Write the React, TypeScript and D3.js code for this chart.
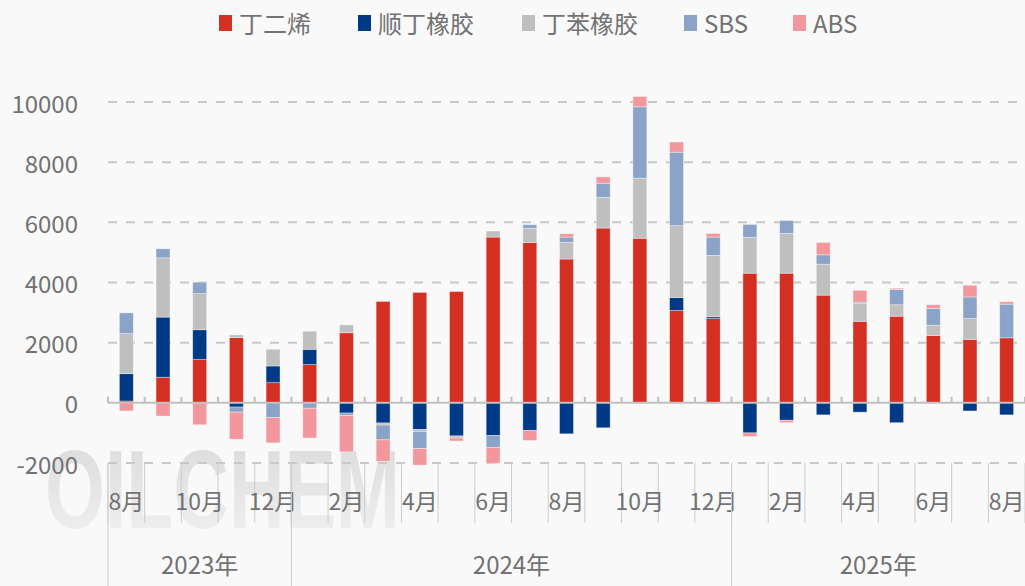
import * as d3 from 'd3'

// months 2023-08 .. 2025-08
const months = [
  '2023-08', '2023-09', '2023-10', '2023-11', '2023-12',
  '2024-01', '2024-02', '2024-03', '2024-04', '2024-05', '2024-06',
  '2024-07', '2024-08', '2024-09', '2024-10', '2024-11', '2024-12',
  '2025-01', '2025-02', '2025-03', '2025-04', '2025-05', '2025-06',
  '2025-07', '2025-08',
]

const butadiene = [60, 850, 1440, 2170, 670, 1270, 2330, 3370, 3670, 3700, 5510, 5330, 4780, 5810, 5470, 3070, 2800, 4310, 4310, 3580, 2710, 2880, 2240, 2110, 2160]
const brRubber = [910, 2000, 990, -140, 555, 510, -340, -670, -890, -1100, -1090, -920, -1030, -830, 0, 430, 60, -1000, -580, -400, -310, -660, 0, -270, -400]
const sbrRubber = [1330, 1970, 1200, 90, 556, 600, 260, -70, -60, -70, 200, 470, 550, 1020, 2000, 2390, 2040, 1190, 1320, 1030, 600, 380, 340, 690, 0]
const sbs = [690, 300, 380, -170, -490, -180, -80, -490, -570, 0, -390, 120, 180, 470, 2370, 2440, 610, 430, 430, 310, 40, 510, 560, 720, 1120]
const abs = [-270, -440, -730, -900, -840, -990, -1210, -710, -550, -100, -530, -330, 110, 210, 340, 340, 120, -120, -80, 410, 390, 40, 120, 390, 80]

const seriesNames = ['丁二烯', '顺丁橡胶', '丁苯橡胶', 'SBS', 'ABS']
const seriesColors = ['#d42f23', '#003a86', '#bfbfbf', '#8aa3c7', '#f3979f']
const yTicks = [-2000, 0, 2000, 4000, 6000, 8000, 10000]
const years = ['2023', '2024', '2025']

const W = 1025
const H = 586
const FONT = '"Noto Sans CJK SC", "Noto Sans", sans-serif'
const TEXT = '#727272'

export default function App() {
  const rows = months.map((m, i) => ({
    month: m,
    丁二烯: butadiene[i],
    顺丁橡胶: brRubber[i],
    丁苯橡胶: sbrRubber[i],
    SBS: sbs[i],
    ABS: abs[i],
  }))
  const stacked = d3.stack<any>().keys(seriesNames).offset(d3.stackOffsetDiverging)(rows)

  const x = d3.scaleBand().domain(months).range([108, W]).paddingInner(0.62).paddingOuter(0.31)
  const y = d3.scaleLinear().domain([-2000, 10000]).range([463, 102])
  const step = x.step()
  const boundaries = d3.range(months.length + 1).map(i => 108 + i * step)

  const yearGroups = years.map(yr => {
    const idx = months.map((m, i) => (m.startsWith(yr) ? i : -1)).filter(i => i >= 0)
    const x0 = 108 + idx[0] * step
    const x1 = 108 + (idx[idx.length - 1] + 1) * step
    return { yr, x0, x1 }
  })

  const legendX = [219, 358, 522, 684, 793]

  return (
    <svg width={W} height={H} style={{ position: 'fixed', left: 0, top: 0, fontFamily: FONT }}>
      <defs>
        <linearGradient id="wm" x1="0" y1="0" x2="0" y2="1">
          <stop offset="0" stopColor="#d9d9d9" />
          <stop offset="1" stopColor="#f2f2f2" />
        </linearGradient>
      </defs>
      <rect width={W} height={H} fill="#f9f9f9" />

      {/* watermark */}
      <text x={45} y={528} fontSize={112} fontWeight="bold" fill="url(#wm)" textLength={355}
        lengthAdjust="spacingAndGlyphs" fontFamily='"Liberation Sans", sans-serif'>OILCHEM</text>

      {/* grid */}
      {yTicks.filter(t => t !== 0).map(t => (
        <line key={t} x1={108} x2={W} y1={y(t)} y2={y(t)} stroke="#c8c8c8" strokeWidth={2} strokeDasharray="9 9" />
      ))}
      {yTicks.map(t => (
        <text key={t} x={78} y={y(t)} textAnchor="end" dominantBaseline="central" fontSize={24} fill={TEXT}>{t}</text>
      ))}

      {/* bars */}
      {stacked.map((s, si) => (
        <g key={s.key} fill={seriesColors[si]}>
          {s.map((d, i) => {
            const v = d[1] - d[0]
            if (v === 0) return null
            const top = y(Math.max(d[0], d[1]))
            const bot = y(Math.min(d[0], d[1]))
            return (
              <rect key={i} x={x(months[i])} y={top} width={x.bandwidth()} height={bot - top}
                stroke="#ffffff" strokeOpacity={0.45} strokeWidth={0.8} />
            )
          })}
        </g>
      ))}

      {/* zero baseline */}
      <line x1={108} x2={W} y1={y(0)} y2={y(0)} stroke="#c0c0c0" strokeWidth={2} />
      {boundaries.map((bx, i) => (
        <line key={i} x1={bx} x2={bx} y1={y(0)} y2={y(0) - 6} stroke="#c0c0c0" strokeWidth={2} />
      ))}

      {/* category axis */}
      {boundaries.map((bx, i) => (
        <line key={i} x1={bx} x2={bx} y1={463} y2={523} stroke="#cccccc" strokeWidth={1} />
      ))}
      {months.map((m, i) => i % 2 === 0 ? (
        <text key={m} x={x(m)! + x.bandwidth() / 2} y={500} textAnchor="middle" dominantBaseline="central"
          fontSize={23} fill={TEXT}>{+m.slice(5)}月</text>
      ) : null)}
      {yearGroups.map(g => (
        <g key={g.yr}>
          <line x1={g.x0} x2={g.x0} y1={463} y2={H} stroke="#cccccc" strokeWidth={1} />
          <text x={(g.x0 + g.x1) / 2} y={563} textAnchor="middle" dominantBaseline="central" fontSize={24} fill={TEXT}>{g.yr}年</text>
        </g>
      ))}

      {/* legend */}
      {seriesNames.map((n, i) => (
        <g key={n} transform={`translate(${legendX[i]},0)`}>
          <rect x={0} y={15} width={13} height={16} fill={seriesColors[i]} />
          <text x={20} y={22} dominantBaseline="central" fontSize={24} fill={TEXT}>{n}</text>
        </g>
      ))}
    </svg>
  )
}
